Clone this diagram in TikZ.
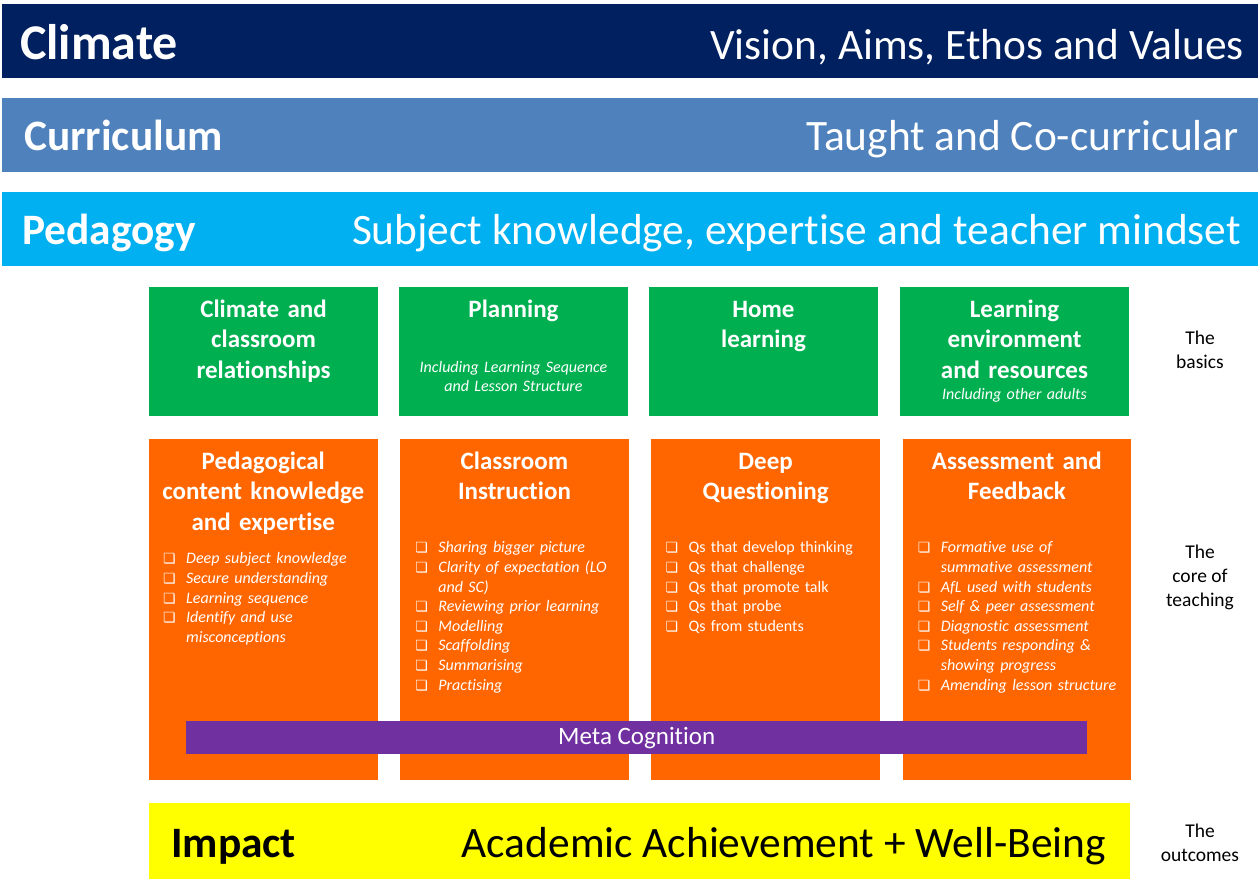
\documentclass[tikz,border=0pt]{standalone}
\usepackage{fontspec}
\setmainfont{Carlito}[Ligatures=NoCommon]
\newfontfamily\dingfont{DejaVu Sans}
\usetikzlibrary{chains,positioning}
\definecolor{ClimateBlue}{HTML}{002060}
\definecolor{CurriculumBlue}{HTML}{4F81BD}
\definecolor{PedagogyBlue}{HTML}{00B0F0}
\definecolor{BasicGreen}{HTML}{00B050}
\definecolor{CoreOrange}{HTML}{FF6600}
\definecolor{MetaPurple}{HTML}{7030A0}
\definecolor{ImpactYellow}{HTML}{FFFF00}
\newcommand{\qbox}{\makebox[23pt][l]{\dingfont\fontsize{14}{14}\selectfont ❏}}
\newcommand{\qitem}[1]{\noindent\hangindent=23pt\hangafter=1\qbox\strut #1\par}

\begin{document}
\begin{tikzpicture}[
			x=1pt, y=-1pt,
			node distance = 21pt,
			Band/.style={fill=#1, draw=none, minimum width=1256pt, minimum height=74pt,
				anchor=north west, outer sep=0pt, inner sep=0pt},
			BandHead/.style={text=white, font=\bfseries\fontsize{43.4}{48}\selectfont,
				anchor=base west, inner sep=0pt},
			BandText/.style={text=white, font=\fontsize{43.4}{48}\selectfont,
				anchor=base east, inner sep=0pt},
			BasicBox/.style={fill=BasicGreen, minimum width=229pt, minimum height=129pt,
				outer sep=0pt, inner sep=0pt, on chain},
			CoreBox/.style={fill=CoreOrange, minimum width=228.5pt, minimum height=341pt,
				outer sep=0pt, inner sep=0pt, on chain},
			BoxTitle/.style={text=white, font=\bfseries\fontsize{25}{30.5}\selectfont,
				align=center, text width=227pt, inner sep=0pt, anchor=north,
				execute at begin node=\strut},
			BoxNote/.style={text=white, font=\itshape\fontsize{16}{19}\selectfont,
				align=center, text width=227pt, inner sep=0pt, anchor=north},
			BulletList/.style={text=white, font=\itshape\fontsize{16}{19.6}\selectfont,
				align=left, text width=218pt, inner sep=0pt, anchor=north west},
			SideNote/.style={font=\fontsize{19.5}{24}\selectfont, align=center},
			]
			\useasboundingbox (0,0) rectangle (1260,879);

			% top bands
			\node [Band=ClimateBlue] (climate) at (2,4) {};
			\node [BandHead, font=\bfseries\fontsize{50}{54}\selectfont] (climatehead) at (20,59) {Climate};
			\node [BandText] (climatetext) at (1244,59) {Vision, Aims, Ethos and Values};
			\node [Band=CurriculumBlue] (curriculum) at (2,98) {};
			\node [BandHead] (curriculumhead) at (24,150) {Curriculum};
			\node [BandText] (curriculumtext) at (1239,150) {Taught and Co-curricular};
			\node [Band=PedagogyBlue] (pedagogy) at (2,192) {};
			\node [BandHead] (pedagogyhead) at (22,244) {Pedagogy};
			\node [BandText] (pedagogytext) at (1241,244) {Subject knowledge, expertise and teacher mindset};

			% the basics
			\begin{scope}[start chain=basics going right]
				\node [BasicBox, anchor=north west] (g1) at (149,287) {};
				\node [BasicBox] (g2) {};
				\node [BasicBox] (g3) {};
				\node [BasicBox, xshift=1pt] (g4) {};
			\end{scope}
			\node [BoxTitle] (g1title) at ([yshift=-8.5pt]g1.north) {Climate and\\classroom\\relationships};
			\node [BoxTitle] (g2title) at ([yshift=-8.5pt]g2.north) {Planning};
			\node [BoxNote] (g2note) at ([yshift=-74pt]g2.north) {Including Learning Sequence\\and Lesson Structure};
			\node [BoxTitle] (g3title) at ([yshift=-8.5pt]g3.north) {Home\\learning};
			\node [BoxTitle] (g4title) at ([yshift=-8.5pt]g4.north) {Learning\\environment\\and resources};
			\node [BoxNote] (g4note) at ([yshift=-101pt]g4.north) {Including other adults};

			% the core of teaching
			\begin{scope}[start chain=core going right, node distance=22.7pt]
				\node [CoreBox, anchor=north west] (o1) at (149,439) {};
				\node [CoreBox] (o2) {};
				\node [CoreBox] (o3) {};
				\node [CoreBox] (o4) {};
			\end{scope}
			\node [BoxTitle] (o1title) at ([yshift=-8.5pt]o1.north) {Pedagogical\\content knowledge\\and expertise};
			\node [BoxTitle] (o2title) at ([yshift=-8.5pt]o2.north) {Classroom\\Instruction};
			\node [BoxTitle] (o3title) at ([yshift=-8.5pt]o3.north) {Deep\\Questioning};
			\node [BoxTitle] (o4title) at ([yshift=-8.5pt]o4.north) {Assessment and\\Feedback};

			\node [BulletList] (o1list) at ([xshift=14pt, yshift=-111pt]o1.north west) {%
				\qitem{Deep subject knowledge}
				\qitem{Secure understanding}
				\qitem{Learning sequence}
				\qitem{Identify and use\newline misconceptions}};
			\node [BulletList] (o2list) at ([xshift=15pt, yshift=-100pt]o2.north west) {%
				\qitem{Sharing bigger picture}
				\qitem{Clarity of expectation (LO\newline and SC)}
				\qitem{Reviewing prior learning}
				\qitem{Modelling}
				\qitem{Scaffolding}
				\qitem{Summarising}
				\qitem{Practising}};
			\node [BulletList, font=\fontsize{16}{19.6}\selectfont] (o3list) at ([xshift=14pt, yshift=-100pt]o3.north west) {%
				\qitem{Qs that develop thinking}
				\qitem{Qs that challenge}
				\qitem{Qs that promote talk}
				\qitem{Qs that probe}
				\qitem{Qs from students}};
			\node [BulletList] (o4list) at ([xshift=15pt, yshift=-100pt]o4.north west) {%
				\qitem{Formative use of\newline summative assessment}
				\qitem{AfL used with students}
				\qitem{Self \& peer assessment}
				\qitem{Diagnostic assessment}
				\qitem{Students responding \&\newline showing progress}
				\qitem{Amending lesson structure}};

			\node [fill=MetaPurple, text=white, minimum width=901pt, minimum height=33pt,
				inner sep=0pt, anchor=north west, font=\fontsize{25}{28}\selectfont] (meta) at (186,721) {Meta Cognition};

			% the outcomes
			\node [fill=ImpactYellow, minimum width=981pt, minimum height=76pt, inner sep=0pt,
				anchor=north west] (impact) at (149,803) {};
			\node [BandHead, text=black] (impacthead) at (171,857) {Impact};
			\node [BandText, text=black] (impacttext) at (1106,857) {Academic Achievement + Well-Being};

			% side notes
			\node [SideNote] (basicsnote) at (1200,350) {The\\basics};
			\node [SideNote] (corenote) at (1200,577) {The\\core of\\teaching};
			\node [SideNote] (outcomesnote) at (1200,843) {The\\outcomes};
		\end{tikzpicture}
\end{document}
